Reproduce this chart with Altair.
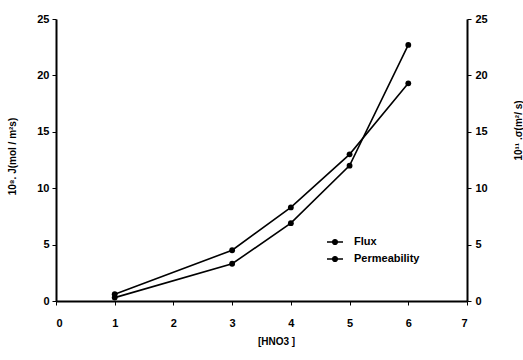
import altair as alt
import pandas as pd

# [HNO3] concentrations and measured series
hno3 = [1, 3, 4, 5, 6]
flux = [0.6, 4.5, 8.3, 13.0, 19.3]
permeability = [0.3, 3.3, 6.9, 12.0, 22.7]
series_names = ["Flux", "Permeability"]
x_ticks = [0, 1, 2, 3, 4, 5, 6, 7]
y_ticks = [0, 5, 10, 15, 20, 25]

df = pd.DataFrame({
    "HNO3": hno3 + hno3,
    "value": flux + permeability,
    "series": [series_names[0]] * len(hno3) + [series_names[1]] * len(hno3),
})

FONT = "Liberation Sans"

x_enc = alt.X(
    "HNO3:Q",
    scale=alt.Scale(domain=[0, 7], nice=False, zero=False),
    axis=alt.Axis(
        values=x_ticks, title="[HNO3 ]", grid=False, format="d",
        domainColor="black", domainWidth=2, tickColor="black", tickSize=4,
        labelPadding=12, labelFontSize=11, labelFontWeight="bold", labelColor="black",
        labelFont=FONT, titleFont=FONT, titleFontSize=10, titleFontWeight="bold",
        titleColor="black", titleX=220, titleY=40, titleBaseline="middle",
    ),
)

line = alt.Chart(df).mark_line(
    interpolate="linear", strokeWidth=1.6,
    point=alt.OverlayMarkDef(filled=True, size=34, color="black", opacity=1),
).encode(
    x=x_enc,
    y=alt.Y(
        "value:Q",
        scale=alt.Scale(domain=[0, 25], nice=False),
        axis=alt.Axis(
            values=y_ticks, orient="left", grid=False,
            title="10⁸. J(mol / m²s)",
            domainColor="black", domainWidth=2, tickColor="black", tickSize=4,
            labelPadding=3, labelFontSize=11, labelFontWeight="bold", labelColor="black",
            labelFont=FONT, titleFont=FONT, titleFontSize=10, titleFontWeight="bold",
            titleColor="black", titleX=-44, titleY=137, titleBaseline="middle",
        ),
    ),
    color=alt.Color(
        "series:N",
        scale=alt.Scale(domain=series_names, range=["black", "black"]),
        legend=alt.Legend(
            title=None, orient="none", legendX=270, legendY=214,
            symbolType="M-1,0H1M-0.3,0a0.3,0.3 0 1,0 0.6,0a0.3,0.3 0 1,0 -0.6,0",
            symbolSize=256, symbolStrokeWidth=1.3, symbolFillColor="black",
            symbolStrokeColor="black", labelFont=FONT, labelFontSize=11,
            labelFontWeight="bold", labelColor="black", labelOffset=10, rowPadding=3,
        ),
    ),
)

right_axis = alt.Chart(df).mark_point(opacity=0).encode(
    x=x_enc,
    y=alt.Y(
        "value:Q",
        scale=alt.Scale(domain=[0, 25], nice=False),
        axis=alt.Axis(
            values=y_ticks, orient="right", grid=False,
            title="10¹¹ .σ(m²/ s)",
            domainColor="black", domainWidth=2, tickColor="black", tickSize=4,
            labelPadding=4, labelFontSize=11, labelFontWeight="bold", labelColor="black",
            labelFont=FONT, titleFont=FONT, titleFontSize=10, titleFontWeight="bold",
            titleColor="black", titleAngle=270, titleX=51, titleY=111,
            titleBaseline="middle",
        ),
    ),
)

chart = alt.layer(line, right_axis).resolve_scale(y="independent").properties(
    width=411,
    height=282,
    autosize=alt.AutoSizeParams(type="none"),
    padding={"left": 56, "top": 19, "right": 56, "bottom": 59},
    background="white",
).configure_view(stroke=None)

chart.save("out.html", embed_options={"renderer": "svg", "actions": False})
